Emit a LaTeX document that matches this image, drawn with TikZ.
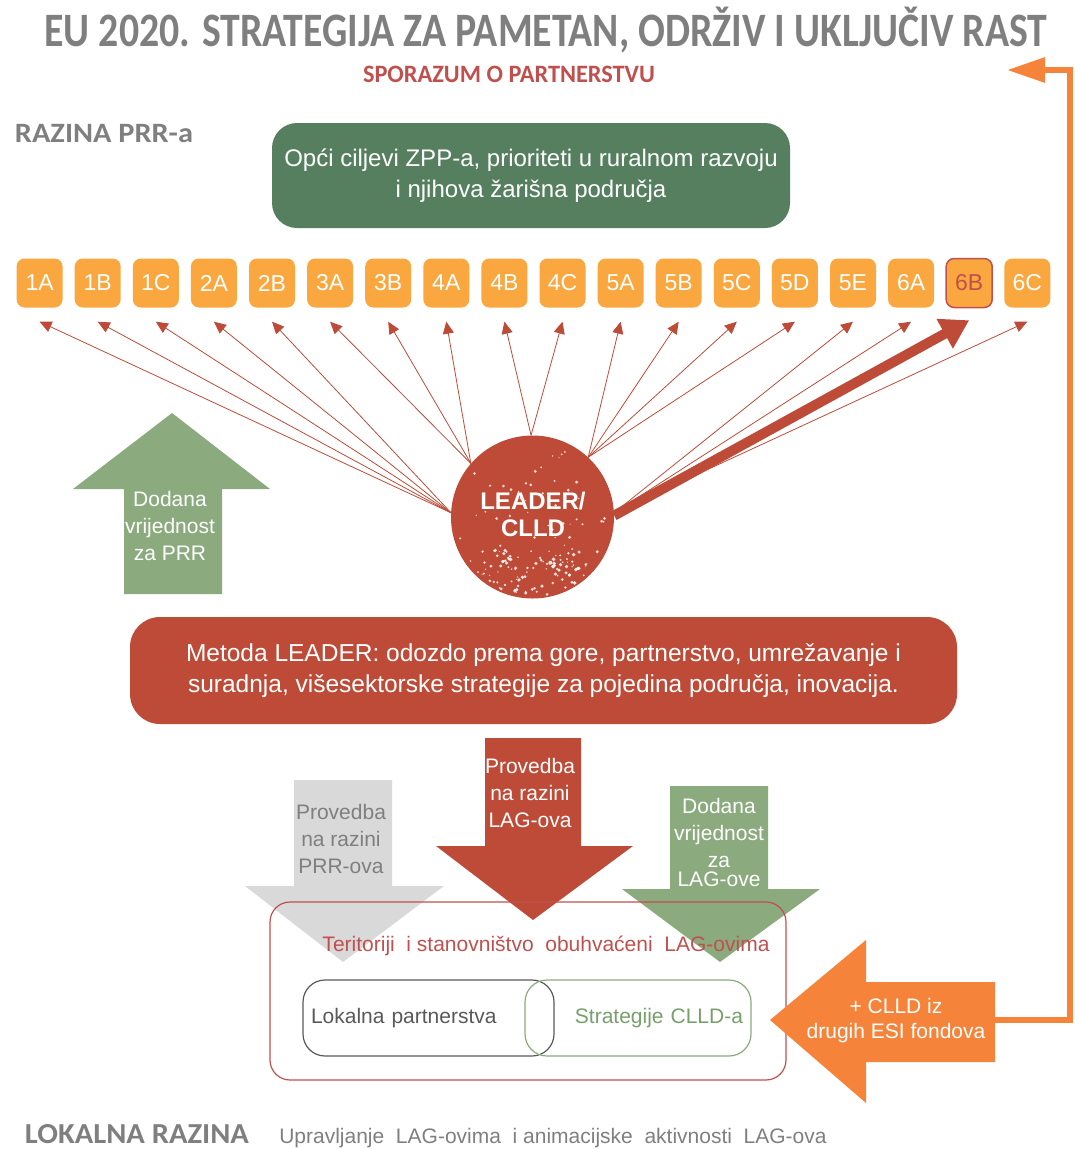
\documentclass[tikz,border=0pt]{standalone}
\usepackage{fontspec}
\setmainfont{Liberation Sans}
\newfontfamily\headfont{Carlito}
\usetikzlibrary{arrows.meta,calc,positioning}
\definecolor{greyText}{HTML}{7F7F7F}
\definecolor{leaderRed}{HTML}{BE4B38}
\definecolor{redText}{HTML}{C0504D}
\definecolor{darkGreen}{HTML}{557F5E}
\definecolor{lightGreen}{HTML}{8BAA7E}
\definecolor{textGreen}{HTML}{77A06A}
\definecolor{prioOrange}{HTML}{F9A73E}
\definecolor{lightGrey}{HTML}{D9D9D9}
\definecolor{partGrey}{HTML}{595959}
\definecolor{esiOrange}{HTML}{F5843A}
\newcommand{\fsz}[2]{\fontsize{#1}{#2}\selectfont}
\tikzset{
    headline/.style = {inner sep=0pt, anchor=base, text=greyText,
        font=\headfont\bfseries\fsz{48pt}{52pt}},
    prio/.style = {fill=prioOrange, rounded corners=8pt, inner sep=0pt,
        minimum width=46pt, minimum height=49pt, text=white, font=\fsz{23pt}{26pt}},
    prioSel/.style = {prio, draw=redText, line width=1.5pt, text=redText},
    ray/.style = {draw=leaderRed, line width=0.8pt, -{Triangle[length=12pt,width=11pt]}},
    bigray/.style = {draw=leaderRed, line width=10pt, -{Triangle[length=28pt,width=32pt]}},
    bigbox/.style = {rounded corners=28pt, text=white, align=center,
        font=\fsz{24pt}{31pt}},
    arrowtext/.style = {align=center, text=white, inner sep=0pt, font=\fsz{21pt}{27pt}},
    plainbox/.style = {rounded corners=22pt, line width=1.2pt, inner sep=8pt,
        minimum height=76pt, font=\fsz{21pt}{24pt}},
    esiline/.style = {draw=esiOrange, line width=6pt, -{Triangle[length=38pt,width=24pt]}}
}

\begin{document}
\begin{tikzpicture}[x=1pt, y=-1pt]
\useasboundingbox (0,0) rectangle (1075,1149);

\node[headline] (title) at (546,46) {\resizebox{1003pt}{\height}{EU 2020. STRATEGIJA ZA PAMETAN, ODRŽIV I UKLJUČIV RAST}};
\node[headline, text=redText, font=\headfont\bfseries\fsz{25pt}{28pt}] (spor) at (509,82) {\resizebox{292pt}{\height}{SPORAZUM O PARTNERSTVU}};
\node[headline, font=\headfont\bfseries\fsz{28pt}{30pt}] (prrLevel) at (104,142) {\resizebox{178pt}{\height}{RAZINA PRR-a}};

\node[bigbox, fill=darkGreen, minimum width=518pt, minimum height=105pt, rounded corners=25pt] (goals) at (531,175.5) {Opći ciljevi ZPP-a, prioriteti u ruralnom razvoju\\i njihova žarišna područja};

\foreach \t/\s [count=\i from 0] in {1A/prio,1B/prio,1C/prio,2A/prio,2B/prio,3A/prio,3B/prio,4A/prio,4B/prio,4C/prio,5A/prio,5B/prio,5C/prio,5D/prio,5E/prio,6A/prio,6B/prioSel,6C/prio}
    \node[\s] (b\t) at (39.6+58.1*\i, 283) {\t};

\node[circle, fill=leaderRed, minimum size=163pt, inner sep=0pt] (lc) at (532.5,517) {};
\foreach \t/\a in {1A/177,1B/177,1C/177,2A/177,2B/177,3A/139,3B/139,4A/139,4B/91,4C/91,5A/47,5B/47,5C/47,5D/47,5E/3,6A/3,6C/3}
    \draw[ray] (lc.\a) -- ([yshift=-14pt]b\t.south);
\pgfmathsetseed{2020}
\foreach \k in {1,...,60}{
    \pgfmathsetmacro{\speckR}{77*sqrt(rnd)}
    \pgfmathsetmacro{\speckA}{rnd*360}
    \pgfmathsetmacro{\speckS}{0.6+1.1*rnd}
    \fill[white, opacity=0.8] ($(lc)+(\speckA:\speckR)$) circle[radius=\speckS pt];
}
\foreach \k in {1,...,90}{
    \pgfmathsetmacro{\speckR}{42+37*rnd}
    \pgfmathsetmacro{\speckA}{40+100*rnd}
    \pgfmathsetmacro{\speckS}{0.6+1.4*rnd}
    \fill[white, opacity=0.85] ($(lc)+(\speckA:\speckR)$) circle[radius=\speckS pt];
}
\node[text=white, align=center, inner sep=0pt, font=\bfseries\fsz{24pt}{27pt}] (lcText) at (533,514) {LEADER/\\CLLD};
\draw[bigray] (lc.1) -- ([yshift=-12pt]b6B.south);

\fill[lightGreen] (124,594) -- (124,489) -- (73,489) -- (172,413) -- (270,489) -- (222,489) -- (222,594) -- cycle;
\node[arrowtext] (prrValue) at (170,526) {Dodana\\vrijednost\\za PRR};

\node[bigbox, fill=leaderRed, minimum width=827pt, minimum height=107pt, rounded corners=30pt, font=\fsz{24.5pt}{31pt}] (method) at (543.5,670.5) {Metoda LEADER: odozdo prema gore, partnerstvo, umrežavanje i\\suradnja, višesektorske strategije za pojedina područja, inovacija.};

\fill[lightGrey] (294,780) -- (392,780) -- (392,886) -- (444,886) -- (343,962) -- (245,886) -- (294,886) -- cycle;
\node[arrowtext, text=greyText] (prrImpl) at (341,839) {Provedba\\na razini\\PRR-ova};
\fill[leaderRed] (485,738) -- (581,738) -- (581,846) -- (633,846) -- (533,920) -- (436,846) -- (485,846) -- cycle;
\node[arrowtext] (lagImpl) at (530,793) {Provedba\\na razini\\LAG-ova};
\fill[lightGreen] (670,786) -- (768,786) -- (768,889) -- (820,889) -- (720,962) -- (622,889) -- (670,889) -- cycle;
\node[arrowtext] (lagValue) at (719,842) {Dodana\\vrijednost\\za\\[-8pt]LAG-ove};

\node[draw=redText, line width=1.2pt, rounded corners=20pt, minimum width=516pt, minimum height=178pt] (territory) at (528,991) {};
\node[text=redText, inner sep=0pt, font=\fsz{21pt}{24pt}] (territoryText) at (546,946) {Teritoriji \ i stanovništvo \ obuhvaćeni \ LAG-ovima};
\node[plainbox, draw=partGrey, text=partGrey, text width=235pt, align=left] (partners) at (428.5,1018) {Lokalna partnerstva};
\node[plainbox, draw=lightGreen, text=textGreen, text width=210pt, align=right] (strategy) at (638,1018) {Strategije CLLD-a};

\fill[esiOrange] (995,982) -- (866,982) -- (866,940) -- (770,1020) -- (866,1103) -- (866,1062) -- (995,1062) -- cycle;
\node[arrowtext, font=\fsz{21pt}{25pt}] (esiFunds) at (896,1021) {+ CLLD iz\\drugih ESI fondova};
\coordinate (esiEnd) at (994,1020);
\coordinate (sporTip) at (1007,70);
\draw[esiline] (esiEnd) -- ++(76,0) |- (sporTip);

\node[headline, font=\headfont\bfseries\fsz{29pt}{31pt}] (localLevel) at (137,1143) {\resizebox{224pt}{\height}{LOKALNA RAZINA}};
\node[anchor=base, inner sep=0pt, text=greyText, font=\fsz{21pt}{24pt}] (lagMgmt) at (553,1143) {Upravljanje \ LAG-ovima \ i animacijske \ aktivnosti \ LAG-ova};
\end{tikzpicture}
\end{document}
